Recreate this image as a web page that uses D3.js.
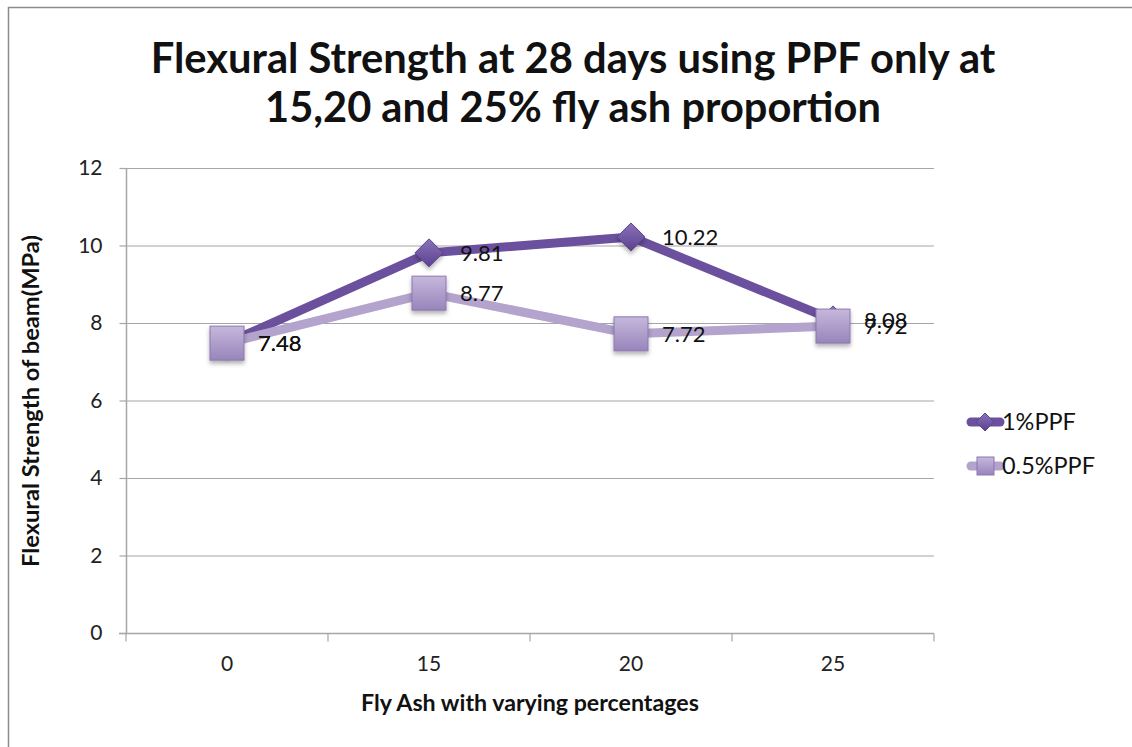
<!DOCTYPE html>
<html><head><meta charset="utf-8">
<script src="https://cdn.jsdelivr.net/npm/d3@7/dist/d3.min.js"></script>
<style>body{margin:0;background:#fff}svg{display:block}text{font-family:Lato,"Open Sans",sans-serif}</style>
</head><body>
<script>
const categories = ["0","15","20","25"];
const seriesNames = ["1%PPF","0.5%PPF"];
const ppf1 = [7.48, 9.81, 10.22, 8.08];
const ppf05 = [7.48, 8.77, 7.72, 7.92];
const yTicks = [0,2,4,6,8,10,12];
const titleLines = ["Flexural Strength at 28 days using PPF only at","15,20 and 25% fly ash proportion"];

const W=1132,H=747;
const svg=d3.select("body").append("svg").attr("width",W).attr("height",H);
const defs=svg.append("defs");
const g1=defs.append("linearGradient").attr("id","gd").attr("x1",0).attr("y1",0).attr("x2",0).attr("y2",1);
g1.append("stop").attr("offset",0).attr("stop-color","#8a72b8");
g1.append("stop").attr("offset",1).attr("stop-color","#5b4190");
const g2=defs.append("linearGradient").attr("id","gs").attr("x1",0).attr("y1",0).attr("x2",0).attr("y2",1);
g2.append("stop").attr("offset",0).attr("stop-color","#c6b8dc");
g2.append("stop").attr("offset",1).attr("stop-color","#9884bb");
const f=defs.append("filter").attr("id","sh").attr("x","-50%").attr("y","-50%").attr("width","200%").attr("height","200%");
f.append("feDropShadow").attr("dx",0).attr("dy",3).attr("stdDeviation",2).attr("flood-color","#000").attr("flood-opacity",0.3);

function fit(sel, base, target){
  sel.attr("font-size",base);
  const w=sel.node().getComputedTextLength();
  sel.attr("font-size",base*target/w);
}

// outer frame
svg.append("rect").attr("x",8.5).attr("y",7.5).attr("width",W+20).attr("height",H+20).attr("fill","none").attr("stroke","#8c8c8c").attr("stroke-width",1.5);

const L=126,R=934,T=168,B=633;
const x=d3.scaleBand().domain(categories).range([L,R]);
const y=d3.scaleLinear().domain([0,12]).range([B,T]);

// gridlines
svg.append("g").selectAll("line").data(yTicks.filter(d=>d>0)).join("line")
 .attr("x1",L).attr("x2",R).attr("y1",d=>y(d)+0.5).attr("y2",d=>y(d)+0.5).attr("stroke","#a6a6a6").attr("stroke-width",1.2);

// y axis
const ya=svg.append("g").attr("transform",`translate(${L+0.5},0)`).call(d3.axisLeft(y).tickValues(yTicks).tickSize(7).tickPadding(17));
ya.select(".domain").attr("stroke","#a6a6a6").attr("stroke-width",1.5).attr("d",`M0,${T}V${B}`);
ya.selectAll(".tick line").attr("stroke","#a6a6a6").attr("stroke-width",1.2);
ya.selectAll(".tick text").attr("font-size",21).attr("fill","#222").attr("font-family","Lato");

// x axis
const xa=svg.append("g").attr("transform",`translate(0,${B+0.5})`).call(d3.axisBottom(x).tickSize(0).tickPadding(23));
xa.select(".domain").attr("stroke","#a6a6a6").attr("stroke-width",1.5).attr("d",`M${L-7},0H${R}`);
xa.selectAll(".tick text").attr("font-size",21).attr("fill","#222").attr("font-family","Lato");
const bounds=categories.map(c=>x(c)).concat([R]);
xa.append("g").selectAll("line").data(bounds).join("line").attr("x1",d=>d).attr("x2",d=>d).attr("y1",0).attr("y2",8).attr("stroke","#a6a6a6").attr("stroke-width",1.2);

const cx=c=>x(c)+x.bandwidth()/2;
const line=d3.line().x((d,i)=>cx(categories[i])).y(d=>y(d));

// lines
svg.append("path").datum(ppf1).attr("d",line).attr("fill","none").attr("stroke","#6b509e").attr("stroke-width",9).attr("stroke-linejoin","round");
svg.append("path").datum(ppf05).attr("d",line).attr("fill","none").attr("stroke","#b3a3cd").attr("stroke-width",9).attr("stroke-linejoin","round");

// markers 1%
const dsz=14;
svg.append("g").selectAll("path").data(ppf1).join("path")
 .attr("transform",(d,i)=>`translate(${cx(categories[i])},${y(d)})`)
 .attr("d",`M0,${-dsz}L${dsz},0L0,${dsz}L${-dsz},0Z`).attr("fill","url(#gd)").attr("stroke","#5e4592").attr("stroke-width",1).attr("filter","url(#sh)");
// markers 0.5%
const s=17;
svg.append("g").selectAll("rect").data(ppf05).join("rect")
 .attr("x",(d,i)=>cx(categories[i])-s).attr("y",d=>y(d)-s).attr("width",2*s).attr("height",2*s)
 .attr("fill","url(#gs)").attr("stroke","#8c77b0").attr("stroke-width",1).attr("filter","url(#sh)");

// data labels
function labels(data){
 svg.append("g").selectAll("text").data(data).join("text")
  .attr("x",(d,i)=>cx(categories[i])+31).attr("y",d=>y(d)).attr("dy","0.36em")
  .attr("font-size",22).attr("fill","#111").text(d=>d3.format(".2f")(d));
}
labels(ppf1); labels(ppf05);

// title
const widths=[845,616];
titleLines.forEach((t,i)=>{
 const el=svg.append("text").attr("x",573).attr("y",[73,122][i]).attr("text-anchor","middle").attr("font-weight","bold").attr("fill","#111").text(t);
 fit(el,36,widths[i]);
});

// axis titles
const xt=svg.append("text").attr("x",530).attr("y",711).attr("text-anchor","middle").attr("font-weight","bold").attr("fill","#111").text("Fly Ash with varying percentages");
fit(xt,18,338);
const yt=svg.append("text").attr("transform","translate(39,401) rotate(-90)").attr("text-anchor","middle").attr("font-weight","bold").attr("fill","#111").text("Flexural Strength of beam(MPa)");
fit(yt,17,332);

// legend
const lg=svg.append("g");
const ly=[422,466];
lg.append("line").attr("x1",971).attr("x2",1000).attr("y1",ly[0]).attr("y2",ly[0]).attr("stroke","#6b509e").attr("stroke-width",9).attr("stroke-linecap","round");
lg.append("path").attr("transform",`translate(985,${ly[0]})`).attr("d","M0,-9L9,0L0,9L-9,0Z").attr("fill","url(#gd)").attr("stroke","#5e4592");
lg.append("line").attr("x1",971).attr("x2",1000).attr("y1",ly[1]).attr("y2",ly[1]).attr("stroke","#b3a3cd").attr("stroke-width",9).attr("stroke-linecap","round");
lg.append("rect").attr("x",977).attr("y",ly[1]-9).attr("width",17).attr("height",18).attr("fill","url(#gs)").attr("stroke","#8c77b0");
const lt=lg.selectAll("text").data(seriesNames).join("text").attr("x",1002).attr("y",(d,i)=>ly[i]).attr("dy","0.36em").attr("fill","#111").text(d=>d);
fit(lt.filter((d,i)=>i===1),18,93);
lt.filter((d,i)=>i===0).attr("font-size",lt.filter((d,i)=>i===1).attr("font-size"));
</script>
</body></html>
